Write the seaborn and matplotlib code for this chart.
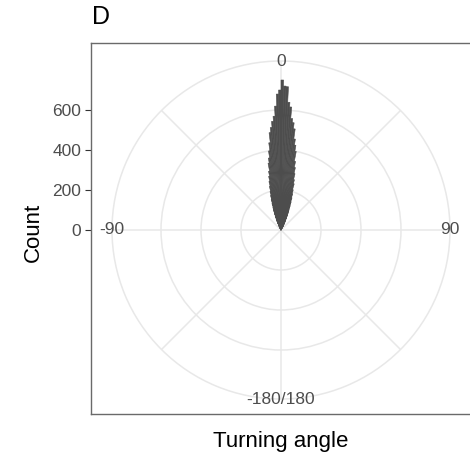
import numpy as np
import pandas as pd
import matplotlib
matplotlib.use("Agg")
import matplotlib.pyplot as plt
import seaborn as sns

# ---- data ----
angle_bins = list(range(-30, 30))  # left edge of 1-degree bins
counts = [
    15, 20, 25, 30, 38, 50, 62, 75, 90, 105,          # -30 .. -21
    120, 140, 160, 180, 200, 225, 250, 275, 300, 340,  # -20 .. -11
    365, 400, 440, 490, 515, 545, 570, 620, 680, 700,  # -10 .. -1
    750, 720, 717, 640, 617, 560, 540, 510, 460, 430,  # 0 .. 9
    400, 350, 320, 290, 260, 240, 210, 190, 170, 150,  # 10 .. 19
    130, 110, 95, 80, 65, 55, 45, 35, 30, 25,          # 20 .. 29
]
theta_ticks = [0, 90, 180, -90]
theta_labels = ["0", "90", "-180/180", "-90"]
grid_angles = [-180, -135, -90, -45, 0, 45, 90, 135]
r_ticks = [0, 200, 400, 600]
title = "D"
xlabel = "Turning angle"
ylabel = "Count"

# ---- style ----
sns.set_theme(style="white")
plt.rcParams["font.family"] = ["Liberation Sans", "DejaVu Sans"]

W, H = 470, 455
fig = plt.figure(figsize=(W / 100, H / 100), dpi=100)
fig.patch.set_facecolor("white")

cx, cy = 281, 230          # centre of polar plot (px)
R_px = 169                 # outer circle radius (px)
scale = 5.0                # counts per pixel
R_max = R_px * scale

grid_col = "#E8E8E8"
txt_col = "#4D4D4D"
bar_col = "#4D4D4D"
fs_tick = 12.5

# background rectangular panel (ggplot style frame + radial axis)
left, top, bottom, right = 91, 43, 414, 472
bax = fig.add_axes([left / W, (H - bottom) / H, (right - left) / W, (bottom - top) / H])
bax.set_ylim(-(bottom - cy) * scale, (cy - top) * scale)
bax.set_xlim(0, 1)
bax.set_xticks([])
bax.set_yticks(r_ticks)
bax.set_yticklabels([str(v) for v in r_ticks], fontsize=fs_tick, color=txt_col)
bax.tick_params(axis="y", length=4, width=0.8, color="#333333", pad=3, left=True)
for s in bax.spines.values():
    s.set_color("#6A6A6A")
    s.set_linewidth(1.0)
bax.spines["right"].set_visible(False)
bax.set_facecolor("white")

# polar axes
pax = fig.add_axes([(cx - R_px) / W, (H - cy - R_px) / H, 2 * R_px / W, 2 * R_px / H],
                   projection="polar")
pax.patch.set_alpha(0)
pax.set_theta_zero_location("N")
pax.set_theta_direction(-1)
pax.set_axisbelow(True)

df = pd.DataFrame({
    "theta": np.deg2rad(np.array(angle_bins, dtype=float) + 0.5),
    "count": counts,
})
sns.histplot(data=df, x="theta", weights="count",
             binwidth=float(np.deg2rad(1.0)),
             binrange=(float(np.deg2rad(angle_bins[0])), float(np.deg2rad(angle_bins[-1] + 1))),
             ax=pax, color=bar_col, edgecolor=bar_col, alpha=1, linewidth=0.4)

pax.set_thetalim(-np.pi, np.pi)
pax.set_ylim(0, R_max)
pax.set_yticks([200, 400, 600])
pax.set_yticklabels([])
pax.set_xticks(np.deg2rad(grid_angles))
pax.set_xticklabels([])
pax.grid(True, color=grid_col, linewidth=1.1)
pax.spines["polar"].set_color(grid_col)
pax.spines["polar"].set_linewidth(1.1)
for k in ("start", "end", "inner"):
    if k in pax.spines:
        pax.spines[k].set_visible(False)
pax.set_xlabel("")
pax.set_ylabel("")
pax.tick_params(length=0)

for t, lab in zip(theta_ticks, theta_labels):
    pax.text(np.deg2rad(t), R_max, lab, ha="center", va="center",
             fontsize=fs_tick, color=txt_col, clip_on=False, zorder=5)

fig.text(92 / W, 1 - 17 / H, title, ha="left", va="center", fontsize=18, color="black")
fig.text(281 / W, 1 - 441 / H, xlabel, ha="center", va="center", fontsize=16, color="black")
fig.text(33 / W, 1 - 232 / H, ylabel, ha="center", va="center", rotation=90,
         fontsize=16, color="black")

fig.savefig("out.png", dpi=100, facecolor="white")
